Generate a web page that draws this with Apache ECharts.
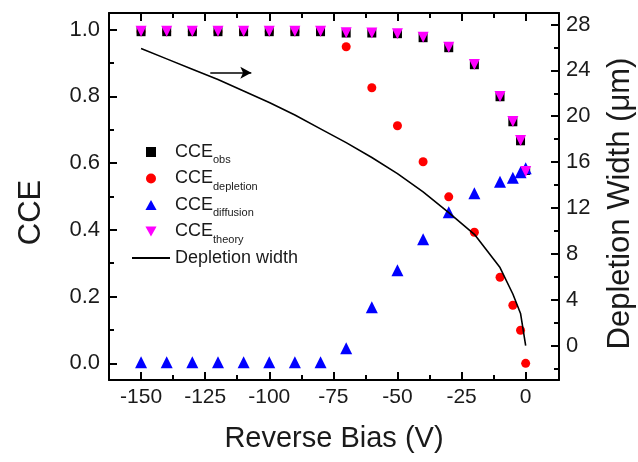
<!DOCTYPE html>
<html>
<head>
<meta charset="utf-8">
<script src="https://cdn.jsdelivr.net/npm/echarts@6/dist/echarts.min.js"></script>
<style>
  html, body { margin: 0; padding: 0; background: #fff; }
  #chart { width: 638px; height: 462px; }
</style>
</head>
<body>
<div id="chart"></div>
<script>
// CCE vs reverse bias, with depletion width on the right axis

const biasV = [-150, -140, -130, -120, -110, -100, -90, -80, -70, -60, -50, -40, -30, -20, -10, -5, -2, 0];

const cceObs       = [0.994, 0.994, 0.994, 0.994, 0.994, 0.994, 0.994, 0.994, 0.990, 0.990, 0.988, 0.976, 0.946, 0.895, 0.799, 0.724, 0.667, 0.578];
const cceDepletion = [0.994, 0.994, 0.994, 0.994, 0.994, 0.994, 0.994, 0.994, 0.949, 0.826, 0.712, 0.604, 0.499, 0.393, 0.258, 0.174, 0.099, 0.000];
const cceDiffusion = [0.003, 0.003, 0.003, 0.003, 0.003, 0.003, 0.003, 0.003, 0.045, 0.168, 0.279, 0.372, 0.453, 0.510, 0.544, 0.556, 0.573, 0.585];
const cceTheory    = [0.995, 0.995, 0.995, 0.995, 0.995, 0.995, 0.995, 0.995, 0.991, 0.990, 0.988, 0.977, 0.947, 0.896, 0.800, 0.725, 0.668, 0.575];
const depletionWidth = [25.9, 25.0, 24.1, 23.2, 22.2, 21.2, 20.1, 18.9, 17.7, 16.4, 15.0, 13.4, 11.6, 9.7, 6.8, 4.5, 2.8, 0.0];

// arrow pointing to the right axis (bias V, width um)
const arrowFrom = [-123, 23.8];
const arrowTo   = [-107, 23.8];

// tick labels / tick positions
const xMajor = [-150, -125, -100, -75, -50, -25, 0];
const xMinor = [-137.5, -112.5, -87.5, -62.5, -37.5, -12.5];
const cceMajor = [0, 0.2, 0.4, 0.6, 0.8, 1.0];
const cceMinor = [0.1, 0.3, 0.5, 0.7, 0.9];
const widthMajor = [0, 4, 8, 12, 16, 20, 24, 28];
const widthMinor = [-2, 2, 6, 10, 14, 18, 22, 26];

const FONT = '"Liberation Sans", Arial, Helvetica, sans-serif';
const INK = "#1a1a1a";

const X_RANGE = [-162.5, 13];
const CCE_RANGE = [-0.05, 1.05];
const W_RANGE = [-3, 29];

// legend icons as paths so they keep their aspect inside the 38px slot
const ICONS = {
  square: "path://M0,0L10,0L10,10L0,10Z",
  circle: "path://M5,0A5,5,0,1,1,5,10A5,5,0,1,1,5,0Z",
  up: "path://M5,0L10,9L0,9Z",
  down: "path://M0,0L10,0L5,9Z",
  line: "path://M0,0L38,0L38,2L0,2Z",
};

function axis(position, range, ticks, tickLen, opts = {}) {
  return {
    type: "value",
    position,
    min: range[0],
    max: range[1],
    splitLine: { show: false },
    axisLine: { show: !!opts.line, onZero: false, lineStyle: { color: "#000", width: 2 } },
    axisTick: {
      show: true, inside: true, length: tickLen, customValues: ticks,
      lineStyle: { color: "#000", width: 2 },
    },
    axisLabel: opts.labels
      ? {
          show: true, customValues: opts.labels, margin: opts.margin ?? 8,
          color: INK, fontFamily: FONT, fontSize: opts.fontSize ?? 22,
          formatter: opts.formatter,
        }
      : { show: false },
    ...opts.extra,
  };
}

const nameStyle = (size) => ({ color: INK, fontFamily: FONT, fontSize: size });

const chart = echarts.init(document.getElementById("chart"), null, { renderer: "canvas" });

const pairs = (ys) => biasV.map((x, i) => [x, ys[i]]);

const subNames = { CCEobs: "obs", CCEdepletion: "depletion", CCEdiffusion: "diffusion", CCEtheory: "theory" };

chart.setOption({
  backgroundColor: "#fff",
  animation: false,
  textStyle: { fontFamily: FONT },
  grid: { left: 109, right: 79, top: 13, bottom: 82, containLabel: false, outerBoundsMode: "none" },
  xAxis: [
    axis("bottom", X_RANGE, xMajor, 8, {
      line: true, labels: xMajor, fontSize: 21, margin: 7,
      extra: { name: "Reverse Bias (V)", nameLocation: "middle", nameGap: 44, nameTextStyle: nameStyle(29) },
    }),
    axis("bottom", X_RANGE, xMinor, 5),
    axis("top", X_RANGE, xMajor, 8, { line: true }),
    axis("top", X_RANGE, xMinor, 5),
  ],
  yAxis: [
    axis("left", CCE_RANGE, cceMajor, 8, {
      line: true, labels: cceMajor, margin: 9, formatter: (v) => v.toFixed(1),
      extra: {
        name: "CCE", nameLocation: "middle", nameGap: 62,
        nameTextStyle: { ...nameStyle(31), padding: [0, 32, 0, 0] },
      },
    }),
    axis("right", W_RANGE, widthMajor, 8, {
      line: true, labels: widthMajor, margin: 7,
      extra: {
        name: "Depletion Width (\u03bcm)", nameLocation: "middle", nameGap: 46,
        nameTextStyle: { ...nameStyle(31), padding: [0, 14, 0, 0] },
      },
    }),
    axis("left", CCE_RANGE, cceMinor, 5),
    axis("right", W_RANGE, widthMinor, 5),
  ],
  legend: {
    orient: "vertical",
    left: 132,
    top: 143,
    padding: 0,
    itemWidth: 38,
    itemHeight: 10,
    itemGap: 4,
    symbolRotate: 0,
    data: [
      { name: "CCEobs", icon: ICONS.square },
      { name: "CCEdepletion", icon: ICONS.circle },
      { name: "CCEdiffusion", icon: ICONS.up },
      { name: "CCEtheory", icon: ICONS.down },
      { name: "Depletion width", icon: ICONS.line },
    ],
    formatter: (name) => subNames[name]
      ? "{m|CCE}{s|" + subNames[name] + "}"
      : "{m|" + name + "}{s| }",
    textStyle: {
      color: INK,
      rich: {
        m: { fontFamily: FONT, fontSize: 18, color: INK },
        s: { fontFamily: FONT, fontSize: 11, color: INK, padding: [16, 0, 0, 0] },
      },
    },
  },
  series: [
    {
      name: "CCEdepletion", type: "scatter", data: pairs(cceDepletion),
      symbol: "circle", symbolSize: 9,
      itemStyle: { color: "#ff0000", opacity: 1 },
    },
    {
      name: "CCEobs", type: "scatter", data: pairs(cceObs),
      symbol: "rect", symbolSize: 9,
      itemStyle: { color: "#000000", opacity: 1 },
    },
    {
      name: "CCEdiffusion", type: "scatter", data: pairs(cceDiffusion),
      symbol: "triangle", symbolSize: 12,
      itemStyle: { color: "#0000ff", opacity: 1 },
    },
    {
      name: "CCEtheory", type: "scatter", data: pairs(cceTheory),
      symbol: "triangle", symbolRotate: 180, symbolSize: 11,
      itemStyle: { color: "#ff00ff", opacity: 1 },
    },
    {
      name: "Depletion width", type: "line", yAxisIndex: 1, data: pairs(depletionWidth),
      symbol: "none", smooth: false,
      lineStyle: { color: "#000", width: 1.6 },
      itemStyle: { color: "#000" },
      markLine: {
        silent: true, symbol: ["none", "arrow"], symbolSize: [9, 11],
        label: { show: false },
        lineStyle: { color: "#000", width: 1.6, type: "solid" },
        data: [[{ coord: arrowFrom }, { coord: arrowTo }]],
      },
    },
  ],
});
</script>
</body>
</html>
